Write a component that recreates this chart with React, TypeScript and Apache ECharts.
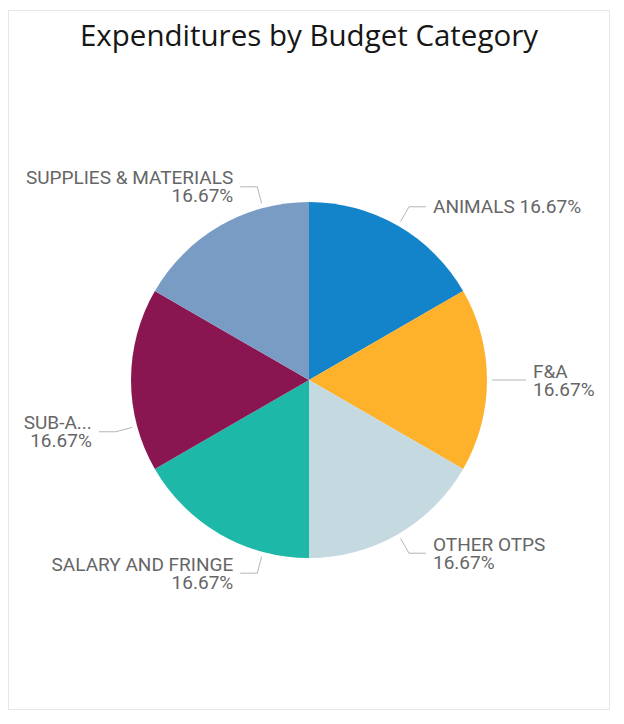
import React, { useEffect, useRef } from "react";
import * as echarts from "echarts";

const TITLE = "Expenditures by Budget Category";
const CATEGORIES = [
  "ANIMALS",
  "F&A",
  "OTHER OTPS",
  "SALARY AND FRINGE",
  "SUB-A...",
  "SUPPLIES & MATERIALS",
];
const VALUES = [1, 1, 1, 1, 1, 1];
const ONE_LINE_LABELS = ["ANIMALS"];

// styles (not data)
const COLORS = ["#1383CA", "#FEB12B", "#C5D9E1", "#1DB8A8", "#8A1651", "#789CC4"];
const LABEL_ANGLE_SHIFT = [0, 0, 0, 15, 15, -15]; // degrees, counter-clockwise
const R = 178;
const CY = 369;
const GAP = 5;
const LEN1 = 22;
const LEN2 = 17;
const TEXT_GAP = 7;

export default function App() {
  const ref = useRef<HTMLDivElement>(null);
  useEffect(() => {
    if (!ref.current) return;
    const chart = echarts.init(ref.current, undefined, { renderer: "svg" });
    const width = ref.current.clientWidth;
    const cx = width / 2;
    const total = VALUES.reduce((a, b) => a + b, 0);
    const midAngles: number[] = [];
    let cum = 0;
    VALUES.forEach((v, i) => {
      const mid = 90 - ((cum + v / 2) / total) * 360 + LABEL_ANGLE_SHIFT[i];
      midAngles.push(mid);
      cum += v;
    });
    const pct = (v: number) => ((v / total) * 100).toFixed(2) + "%";

    chart.setOption({
      animation: false,
      title: {
        text: TITLE,
        left: "center",
        top: 3,
        textStyle: {
          fontFamily: "Open Sans",
          fontSize: 29.5,
          fontWeight: "normal",
          color: "#161616",
        },
      },
      series: [
        {
          type: "pie",
          center: [cx, CY],
          radius: R,
          startAngle: 90,
          clockwise: true,
          avoidLabelOverlap: false,
          itemStyle: { borderWidth: 0 },
          emphasis: { disabled: true },
          data: CATEGORIES.map((name, i) => ({
            name,
            value: VALUES[i],
            itemStyle: { color: COLORS[i] },
          })),
          label: {
            show: true,
            position: "outer",
            fontFamily: "Roboto",
            fontSize: 19,
            lineHeight: 18,
            color: "#666666",
            formatter: (p: any) =>
              ONE_LINE_LABELS.includes(p.name)
                ? `${p.name} ${pct(p.value)}`
                : `${p.name}\n${pct(p.value)}`,
          },
          labelLine: {
            show: true,
            length: LEN1,
            length2: LEN2,
            lineStyle: { color: "#B5B5B5", width: 1 },
          },
          labelLayout: (params: any) => {
            const i = params.dataIndex;
            const a = (midAngles[i] * Math.PI) / 180;
            const dx = Math.cos(a);
            const dy = -Math.sin(a);
            const isLeft = dx < -1e-6;
            const p0 = [cx + dx * (R + GAP), CY + dy * (R + GAP)];
            const p1 = [cx + dx * (R + LEN1), CY + dy * (R + LEN1)];
            const p2 = [p1[0] + (isLeft ? -LEN2 : LEN2), p1[1]];
            return {
              x: p2[0] + (isLeft ? -TEXT_GAP : TEXT_GAP),
              y: p2[1],
              align: isLeft ? "right" : "left",
              verticalAlign: "middle",
              labelLinePoints: [p0, p1, p2],
            };
          },
        },
      ],
    });
    return () => chart.dispose();
  }, []);

  return (
    <div
      style={{
        marginTop: 2,
        width: 600,
        height: 698,
        border: "1px solid #E6E6E6",
      }}
    >
      <div ref={ref} style={{ width: 600, height: 698 }} />
    </div>
  );
}
